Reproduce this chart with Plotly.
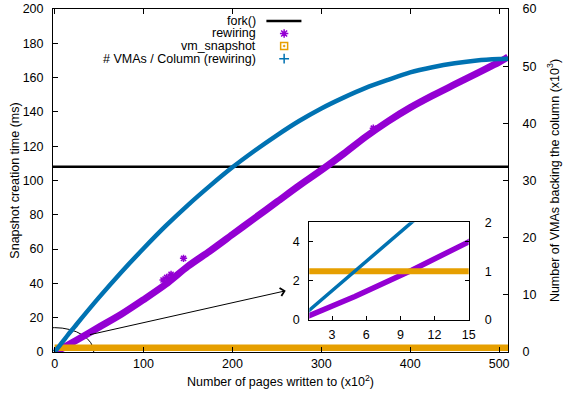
import plotly.graph_objects as go

# ---------------- data ----------------
pages = [0, 1, 5, 10, 15, 20, 25, 50, 75, 100, 125, 150, 175, 200, 225, 250,
         275, 300, 325, 350, 375, 400, 425, 450, 475, 500, 510]          # x10^2 pages
rewiring_ms = [0.05, 0.22, 1.2, 2.55, 4.0, 5.5, 7.0, 14.5, 22.0, 30.5, 39.5, 50.0,
               59.0, 68.5, 78.0, 87.5, 97.0, 106.0, 115.5, 125.5, 134.5, 142.5,
               149.5, 156.0, 162.5, 169.0, 172.0]
vm_snapshot_ms = [2.5, 2.5, 2.5, 2.5, 2.5, 2.5, 2.5, 2.5, 2.5, 2.5, 2.5, 2.5, 2.5,
                  2.5, 2.5, 2.5, 2.5, 2.5, 2.5, 2.5, 2.5, 2.5, 2.5, 2.5, 2.5, 2.5, 2.5]
vmas_k = [0.0, 0.2, 1.0, 2.0, 3.0, 3.94, 4.9, 9.55, 13.96, 18.1, 22.05, 25.7, 29.1,
          32.3, 35.2, 37.9, 40.4, 42.6, 44.5, 46.2, 47.6, 48.9, 49.8, 50.5, 51.0,
          51.25, 51.3]                                                   # x10^3 VMAs
fork_ms = 108.0
outlier_pages = [122, 126, 131, 145, 358.5]
outlier_ms = [42.0, 43.5, 45.3, 54.6, 130.5]

legend_names = ["fork()", "rewiring", "vm_snapshot", "# VMAs / Column (rewiring)"]

x_ticks = [0, 100, 200, 300, 400, 500]
inset_x_ticks = [3, 6, 9, 12, 15]

# ---------------- style ----------------
PURPLE = "#9400D3"
ORANGE = "#E69F00"
BLUE = "#0072B2"
FONT = "Liberation Sans, Arial, sans-serif"
FS = 12.5

fig = go.Figure()

# main plot
fig.add_trace(go.Scatter(x=pages, y=rewiring_ms, mode="lines",
                         line=dict(color=PURPLE, width=7, shape="spline", smoothing=0.8),
                         showlegend=False, xaxis="x", yaxis="y"))
fig.add_trace(go.Scatter(x=outlier_pages, y=outlier_ms, mode="markers",
                         marker=dict(symbol="asterisk-open", size=6, color=PURPLE,
                                     line=dict(color=PURPLE, width=1.5)),
                         showlegend=False, xaxis="x", yaxis="y"))
fig.add_trace(go.Scatter(x=pages, y=vm_snapshot_ms, mode="lines",
                         line=dict(color=ORANGE, width=6.5), showlegend=False,
                         xaxis="x", yaxis="y"))
fig.add_trace(go.Scatter(x=pages, y=vmas_k, mode="lines",
                         line=dict(color=BLUE, width=4.5, shape="spline", smoothing=0.8),
                         showlegend=False, xaxis="x", yaxis="y2"))

# inset plot
fig.add_trace(go.Scatter(x=pages, y=rewiring_ms, mode="lines",
                         line=dict(color=PURPLE, width=5.5), showlegend=False,
                         xaxis="x3", yaxis="y3"))
fig.add_trace(go.Scatter(x=pages, y=vm_snapshot_ms, mode="lines",
                         line=dict(color=ORANGE, width=6), showlegend=False,
                         xaxis="x3", yaxis="y3"))
fig.add_trace(go.Scatter(x=pages, y=vmas_k, mode="lines",
                         line=dict(color=BLUE, width=3.5), showlegend=False,
                         xaxis="x3", yaxis="y4"))

# fork() horizontal reference
fig.add_hline(y=fork_ms, line=dict(color="black", width=2.5), layer="below")

# ---------------- manual gnuplot-style key ----------------
key_x = 0.508
key_rows = [0.9653, 0.9286, 0.8921, 0.8551]
for name, yy in zip(legend_names, key_rows):
    fig.add_annotation(text=name, xref="paper", yref="paper", x=0.4515, y=yy,
                       xanchor="right", yanchor="middle", showarrow=False,
                       font=dict(family=FONT, size=FS, color="black"))
fig.add_shape(type="line", xref="paper", yref="paper", x0=0.469, x1=0.546,
              y0=key_rows[0], y1=key_rows[0], line=dict(color="black", width=2.5))
key_symbols = ["asterisk-open", "square-open-dot", "cross-thin-open"]
key_colors = [PURPLE, ORANGE, BLUE]
fig.add_trace(go.Scatter(x=[key_x] * 3, y=key_rows[1:], mode="markers",
                         marker=dict(symbol=key_symbols, size=7, color=key_colors,
                                     line=dict(color=key_colors, width=1.5)),
                         showlegend=False, cliponaxis=False, hoverinfo="skip",
                         xaxis="x5", yaxis="y5"))

# zoom ellipse around origin + arrow to inset
fig.add_shape(type="circle", xref="x", yref="y", x0=-44, x1=44, y0=-14.2, y1=14.2,
              line=dict(color="black", width=1), layer="below")
fig.add_annotation(x=260, y=35.7, ax=38, ay=9.9, xref="x", yref="y",
                   axref="x", ayref="y", text="", showarrow=True,
                   arrowhead=4, arrowsize=1.6, arrowwidth=1, arrowcolor="black",
                   standoff=0, startstandoff=0)

axis_common = dict(showgrid=False, zeroline=False, ticks="inside", automargin=False,
                   linecolor="black", linewidth=1, tickcolor="black",
                   tickfont=dict(family=FONT, size=FS, color="black"))

fig.update_layout(
    width=563, height=395,
    margin=dict(l=53, r=55, t=9, b=43, pad=0, autoexpand=False),
    paper_bgcolor="white", plot_bgcolor="rgba(0,0,0,0)",
    showlegend=False,
    font=dict(family=FONT, size=FS, color="black"),
    xaxis=dict(domain=[0, 1], range=[-1.8, 510], tickvals=x_ticks, ticklen=5,
               showline=True, mirror="ticks", anchor="y", ticklabelstandoff=0,
               title=dict(text="Number of pages written to (x10<sup>2</sup>)",
                          font=dict(family=FONT, size=FS), standoff=7),
               **axis_common),
    yaxis=dict(domain=[0, 1], range=[0, 200], dtick=20, ticklen=5, showline=True,
               anchor="x", ticklabelstandoff=6,
               title=dict(text="Snapshot creation time (ms)",
                          font=dict(family=FONT, size=FS), standoff=0),
               **axis_common),
    yaxis2=dict(range=[0, 60], dtick=10, ticklen=5, showline=True, overlaying="y",
                side="right", anchor="x", ticklabelstandoff=11,
                title=dict(text="Number of VMAs backing the column (x10<sup>3</sup>)",
                           font=dict(family=FONT, size=FS), standoff=14),
                **axis_common),
    xaxis3=dict(domain=[0.5633, 0.9136], range=[1, 15], tickvals=inset_x_ticks,
                ticklen=4, showline=True, mirror=True, anchor="y3",
                ticklabelstandoff=3, **axis_common),
    yaxis3=dict(domain=[0.0933, 0.3781], range=[0, 5], tickvals=[0, 2, 4],
                ticklen=4, showline=True, mirror="ticks", anchor="x3",
                ticklabelstandoff=6, **axis_common),
    yaxis4=dict(range=[0, 2], tickvals=[0, 1, 2], showline=False, overlaying="y3",
                side="right", anchor="x3", ticklabelstandoff=15, automargin=False,
                showgrid=False, zeroline=False, ticks="",
                tickfont=dict(family=FONT, size=FS, color="black")),
    xaxis5=dict(range=[0, 1], overlaying="x", visible=False, anchor="y5",
                automargin=False),
    yaxis5=dict(range=[0, 1], overlaying="y", visible=False, anchor="x5",
                automargin=False),
)

fig.write_html("out.html",
               config={"displayModeBar": False},
               post_script="document.body.style.margin='0';"
                           "document.body.style.overflow='hidden';")
